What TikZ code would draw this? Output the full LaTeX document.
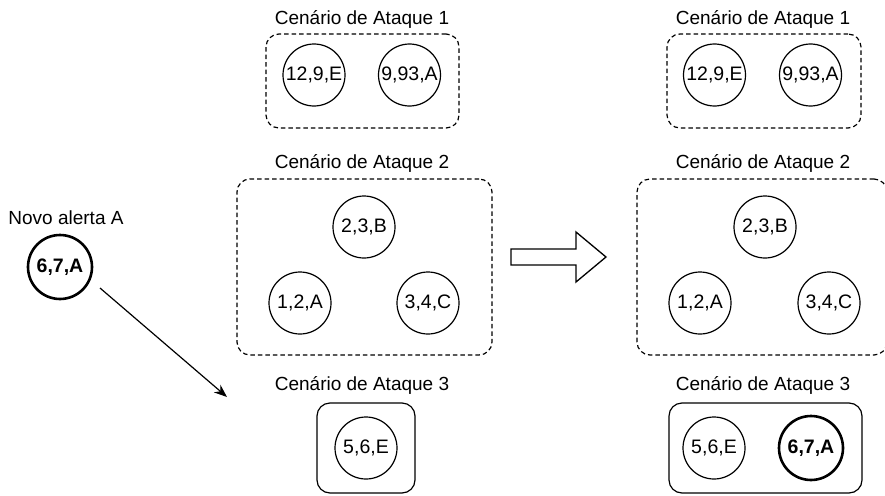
\documentclass[tikz,border=0pt]{standalone}
\usepackage{fontspec}
\setmainfont{Liberation Sans}
\usetikzlibrary{arrows.meta}
\begin{document}
\begin{tikzpicture}[x=1pt,y=-1pt,
  every node/.style={font=\fontsize{19}{21}\selectfont},
  ttl/.style={inner sep=0pt,anchor=center},
  grp/.style={draw,line width=1.2pt,dash pattern=on 4.5pt off 3pt,rounded corners=13pt,inner sep=0pt},
  grpsolid/.style={draw,line width=1.2pt,rounded corners=13pt,inner sep=0pt},
  alrt/.style={draw,circle,line width=1.2pt,minimum size=62pt,inner sep=0pt,font=\fontsize{19.5}{21}\selectfont},
  newalrt/.style={draw,circle,line width=2.6pt,minimum size=64pt,inner sep=0pt,font=\fontsize{19.5}{21}\selectfont\bfseries}
]
\useasboundingbox (0,0) rectangle (885,495);

% ---- left column ----
\node[ttl] (t1l) at (362,19) {Cenário de Ataque 1};
\node[grp,minimum width=193pt,minimum height=94pt] (g1l) at (362.5,81) {};
\node[alrt] (a129l) at (314,75) {12,9,E};
\node[alrt] (a993l) at (409.5,75) {9,93,A};

\node[ttl] (t2l) at (362,163) {Cenário de Ataque 2};
\node[grp,minimum width=255pt,minimum height=176pt] (g2l) at (364.5,267) {};
\node[alrt] (a23l) at (364,227) {2,3,B};
\node[alrt] (a12l) at (300,303) {1,2,A};
\node[alrt] (a34l) at (428,303) {3,4,C};

\node[ttl] (t3l) at (362,385) {Cenário de Ataque 3};
\node[grpsolid,minimum width=98pt,minimum height=90pt] (g3l) at (366,448) {};
\node[alrt] (a56l) at (366,448) {5,6,E};

% ---- new alert ----
\node[ttl] (tnew) at (66,218) {Novo alerta A};
\node[newalrt] (new) at (60,267) {6,7,A};
\coordinate (arrS) at (100,288);
\coordinate (arrE) at (227,397);
\draw[line width=1.2pt,-{Stealth[length=13pt,width=10pt]}] (arrS) -- (arrE);

% ---- block arrow ----
\draw[line width=1.3pt,line join=miter] (511,249) -- (576,249) -- (576,232) -- (606,257) -- (576,282) -- (576,265) -- (511,265) -- cycle;

% ---- right column ----
\node[ttl] (t1r) at (763,19) {Cenário de Ataque 1};
\node[grp,minimum width=194pt,minimum height=94pt] (g1r) at (764,81) {};
\node[alrt] (a129r) at (714.5,75) {12,9,E};
\node[alrt] (a993r) at (810.5,75) {9,93,A};

\node[ttl] (t2r) at (763,163) {Cenário de Ataque 2};
\node[grp,minimum width=250pt,minimum height=176pt] (g2r) at (762,267) {};
\node[alrt] (a23r) at (765,227) {2,3,B};
\node[alrt] (a12r) at (700,303) {1,2,A};
\node[alrt] (a34r) at (829,303) {3,4,C};

\node[ttl] (t3r) at (763,385) {Cenário de Ataque 3};
\node[grpsolid,minimum width=193pt,minimum height=90pt] (g3r) at (765.5,448) {};
\node[alrt] (a56r) at (714,448) {5,6,E};
\node[newalrt] (newr) at (811,448) {6,7,A};
\end{tikzpicture}
\end{document}
